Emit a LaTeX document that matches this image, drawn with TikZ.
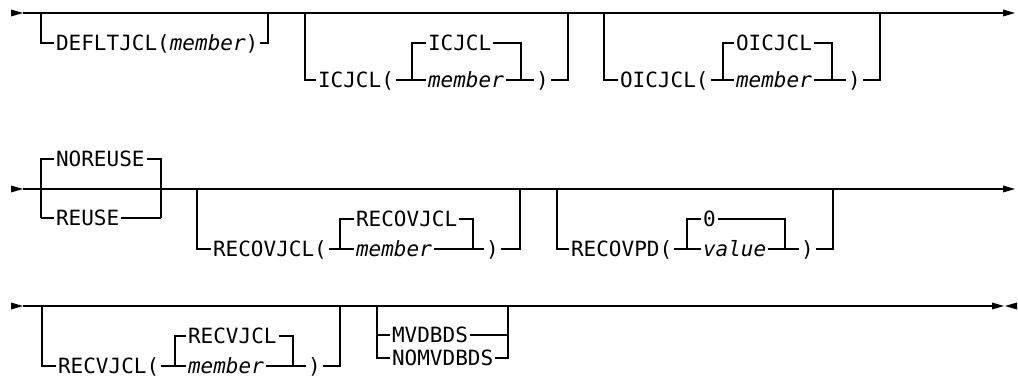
\documentclass[tikz,border=0pt]{standalone}
\usepackage{fontspec}
\newfontfamily\railfont{DejaVu Sans Mono}
\newcommand\kwfont{\railfont\fontsize{21}{25}\selectfont}

\tikzset{
  rail/.style={line width=1.1pt},
  kw/.style={font=\kwfont, inner sep=1.5pt, anchor=west, text height=15pt, text depth=0pt},
  var/.style={kw, font=\kwfont\itshape},
}

\begin{document}
\begin{tikzpicture}[x=1pt, y=-1pt, rail]
  \useasboundingbox (0,0) rectangle (1018,377);

  %% Row 1: main line
  \coordinate (ra) at (23,13);
  \coordinate (rb) at (1003,13);
  \fill (11,9.5) -- (ra) -- (11,16.5) -- cycle;
  \draw (ra) -- (rb);
  \fill (rb) -- (1003,9.5) -- (1015,13) -- (1003,16.5) -- cycle;

  %% DEFLTJCL
  \coordinate (d1) at (41,13);
  \coordinate (d2) at (268,13);
  \node[kw] (deflt) at (54,43) {DEFLTJCL(\textit{member})};
  \draw (d1) |- (deflt.west);
  \draw (deflt.east) -| (d2);

  %% ICJCL
  \coordinate (i1) at (305,13);
  \coordinate (i2) at (412,80);
  \coordinate (i3) at (521,80);
  \coordinate (i4) at (568,13);
  \node[kw]  (icopen)  at (316,80) {ICJCL(};
  \node[kw]  (icdef)   at (426,43) {ICJCL};
  \node[var] (icmem)   at (426,80) {member};
  \node[kw]  (icclose) at (534,80) {)};
  \draw (i1) |- (icopen.west);
  \draw (icopen.east) -- (icmem.west);
  \draw (i2) |- (icdef.west);
  \draw (icdef.east) -| (i3);
  \draw (icmem.east) -- (icclose.west);
  \draw (icclose.east) -| (i4);

  %% OICJCL
  \coordinate (o1) at (604,13);
  \coordinate (o2) at (723,80);
  \coordinate (o3) at (832,80);
  \coordinate (o4) at (880,13);
  \node[kw]  (ocopen)  at (618,80) {OICJCL(};
  \node[kw]  (ocdef)   at (734,43) {OICJCL};
  \node[var] (ocmem)   at (734,80) {member};
  \node[kw]  (occlose) at (846,80) {)};
  \draw (o1) |- (ocopen.west);
  \draw (ocopen.east) -- (ocmem.west);
  \draw (o2) |- (ocdef.west);
  \draw (ocdef.east) -| (o3);
  \draw (ocmem.east) -- (occlose.west);
  \draw (occlose.east) -| (o4);

  %% Row 2: main line
  \coordinate (sa) at (23,189);
  \coordinate (sb) at (1003,189);
  \fill (11,185.5) -- (sa) -- (11,192.5) -- cycle;
  \draw (sa) -- (sb);
  \fill (sb) -- (1003,185.5) -- (1015,189) -- (1003,192.5) -- cycle;

  %% NOREUSE / REUSE
  \coordinate (n1) at (41,218);
  \coordinate (n2) at (161,218);
  \node[kw] (noreuse) at (54,159) {NOREUSE};
  \node[kw] (reuse)   at (54,218) {REUSE};
  \draw (n1) |- (noreuse.west);
  \draw (n1) -- (reuse.west);
  \draw (noreuse.east) -| (n2);
  \draw (reuse.east) -- (n2);

  %% RECOVJCL
  \coordinate (v1) at (197,189);
  \coordinate (v2) at (340,249);
  \coordinate (v3) at (473,249);
  \coordinate (v4) at (520,189);
  \node[kw]  (rvopen)  at (211,249) {RECOVJCL(};
  \node[kw]  (rvdef)   at (354,219) {RECOVJCL};
  \node[var] (rvmem)   at (354,249) {member};
  \node[kw]  (rvclose) at (484,249) {)};
  \draw (v1) |- (rvopen.west);
  \draw (rvopen.east) -- (rvmem.west);
  \draw (v2) |- (rvdef.west);
  \draw (rvdef.east) -| (v3);
  \draw (rvmem.east) -- (rvclose.west);
  \draw (rvclose.east) -| (v4);

  %% RECOVPD
  \coordinate (p1) at (557,189);
  \coordinate (p2) at (687,249);
  \coordinate (p3) at (785,249);
  \coordinate (p4) at (833,189);
  \node[kw]  (pdopen)  at (569,249) {RECOVPD(};
  \node[kw]  (pddef)   at (701,219) {0};
  \node[var] (pdval)   at (701,249) {value};
  \node[kw]  (pdclose) at (799,249) {)};
  \draw (p1) |- (pdopen.west);
  \draw (pdopen.east) -- (pdval.west);
  \draw (p2) |- (pddef.west);
  \draw (pddef.east) -| (p3);
  \draw (pdval.east) -- (pdclose.west);
  \draw (pdclose.east) -| (p4);

  %% Row 3: main line
  \coordinate (ta) at (23,306);
  \coordinate (tb) at (992,306);
  \fill (11,302.5) -- (ta) -- (11,309.5) -- cycle;
  \draw (ta) -- (tb);
  \fill (tb) -- (992,302.5) -- (1004,306) -- (992,309.5) -- cycle;
  \fill (1017,302.5) -- (1005,306) -- (1017,309.5) -- cycle;

  %% RECVJCL
  \coordinate (j1) at (42,306);
  \coordinate (j2) at (175,366);
  \coordinate (j3) at (293,366);
  \coordinate (j4) at (340,306);
  \node[kw]  (rjopen)  at (56,366) {RECVJCL(};
  \node[kw]  (rjdef)   at (186,336) {RECVJCL};
  \node[var] (rjmem)   at (186,366) {member};
  \node[kw]  (rjclose) at (306,366) {)};
  \draw (j1) |- (rjopen.west);
  \draw (rjopen.east) -- (rjmem.west);
  \draw (j2) |- (rjdef.west);
  \draw (rjdef.east) -| (j3);
  \draw (rjmem.east) -- (rjclose.west);
  \draw (rjclose.east) -| (j4);

  %% MVDBDS / NOMVDBDS
  \coordinate (m1) at (377,306);
  \coordinate (m2) at (508,306);
  \node[kw] (mvd)   at (390,335) {MVDBDS};
  \node[kw] (nomvd) at (390,358) {NOMVDBDS};
  \draw (m1) |- (nomvd.west);
  \draw (mvd.west) -- (mvd.west -| m1);
  \draw (nomvd.east) -| (m2);
  \draw (mvd.east) -- (mvd.east -| m2);
\end{tikzpicture}
\end{document}
